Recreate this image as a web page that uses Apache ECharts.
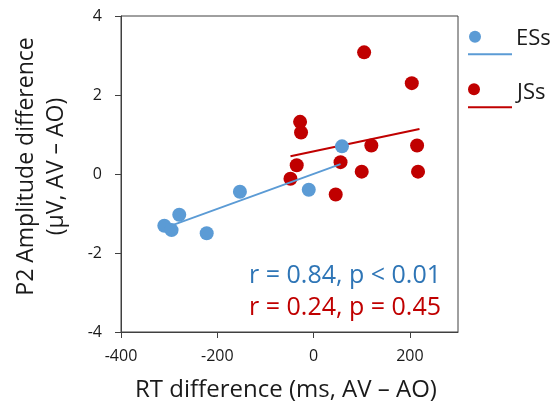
<!DOCTYPE html>
<html><head><meta charset="utf-8">
<script src="https://cdn.jsdelivr.net/npm/echarts@6/dist/echarts.min.js"></script>
<style>html,body{margin:0;padding:0;background:#fff}#c{width:556px;height:418px}</style>
</head><body><div id="c"></div>
<script>
// ES group (blue)
var esRT  = [-310, -295, -279, -222, -153, -10, 59];
var esAmp = [-1.31, -1.42, -1.03, -1.50, -0.45, -0.40, 0.70];
// JS group (red)
var jsRT  = [-48, -35, -28, -26, 46, 56, 100, 105, 120, 204, 215, 217];
var jsAmp = [-0.12, 0.22, 1.32, 1.05, -0.52, 0.30, 0.06, 3.08, 0.72, 2.30, 0.72, 0.06];
// regression line end points
var esFitX = [-290, 56];
var esFitY = [-1.28, 0.25];
var jsFitX = [-48, 220];
var jsFitY = [0.45, 1.14];
// ticks
var xTicks = [-400, -200, 0, 200];
var yTicks = [-4, -2, 0, 2, 4];
var esStat = 'r = 0.84, p < 0.01';
var jsStat = 'r = 0.24, p = 0.45';
var legendNames = ['ESs', 'JSs'];

function pairs(xs, ys) { return xs.map(function (x, i) { return [x, ys[i]]; }); }

var FONT = '"Open Sans", "Liberation Sans", sans-serif';
var BLUE = '#5b9bd5', RED = '#c00000', AX = '#404040', TXT = '#1a1a1a';

var chart = echarts.init(document.getElementById('c'), null, {renderer: 'canvas'});
chart.setOption({
  animation: false,
  backgroundColor: '#fff',
  grid: {left: 121, right: 98, top: 16, bottom: 86, show: true, borderColor: AX, borderWidth: 1, backgroundColor: 'transparent'},
  xAxis: {
    type: 'value', min: -400, max: 300, interval: 200,
    axisLine: {show: true, onZero: false, lineStyle: {color: AX, width: 1}},
    axisTick: {show: true, length: 6, lineStyle: {color: AX}, customValues: xTicks},
    axisLabel: {margin: 16, fontSize: 16, fontFamily: FONT, color: TXT, customValues: xTicks},
    splitLine: {show: false},
    name: 'RT difference (ms, AV – AO)', nameLocation: 'middle', nameGap: 46,
    nameTextStyle: {fontSize: 24, fontFamily: FONT, color: TXT, padding: [0, 7, 0, 0]}
  },
  yAxis: {
    type: 'value', min: -4, max: 4, interval: 2,
    axisLine: {show: true, onZero: false, lineStyle: {color: AX, width: 1}},
    axisTick: {show: true, length: 6, lineStyle: {color: AX}, customValues: yTicks},
    axisLabel: {margin: 19, fontSize: 16, fontFamily: FONT, color: TXT, customValues: yTicks},
    splitLine: {show: false},
    name: 'P2 Amplitude difference\n(µV, AV – AO)', nameLocation: 'middle', nameGap: 50,
    nameTextStyle: {fontSize: 23, lineHeight: 30, fontFamily: FONT, color: TXT, padding: [0, 0, 0, 15]}
  },
  series: [
    {type: 'scatter', name: legendNames[1], data: pairs(jsRT, jsAmp), symbolSize: 14,
     itemStyle: {color: RED, opacity: 1}, z: 2},
    {type: 'line', data: pairs(jsFitX, jsFitY), showSymbol: false, symbol: 'none',
     lineStyle: {color: RED, width: 2}, z: 3},
    {type: 'scatter', name: legendNames[0], data: pairs(esRT, esAmp), symbolSize: 14,
     itemStyle: {color: BLUE, opacity: 1}, z: 4},
    {type: 'line', data: pairs(esFitX, esFitY), showSymbol: false, symbol: 'none',
     lineStyle: {color: BLUE, width: 1.8}, z: 5}
  ],
  graphic: [
    {type: 'text', x: 441, y: 263, z: 10,
     style: {text: esStat, fill: '#2e75b6', font: '25px ' + FONT, align: 'right', textAlign: 'right', verticalAlign: 'top', textVerticalAlign: 'top'}},
    {type: 'text', x: 441, y: 295, z: 10,
     style: {text: jsStat, fill: RED, font: '25px ' + FONT, align: 'right', textAlign: 'right', verticalAlign: 'top', textVerticalAlign: 'top'}},
    // legend
    {type: 'circle', shape: {cx: 475, cy: 36.7, r: 6}, style: {fill: BLUE}},
    {type: 'line', shape: {x1: 468, y1: 54.3, x2: 512, y2: 54.3}, style: {stroke: BLUE, lineWidth: 2}},
    {type: 'text', x: 516, y: 38.5, style: {text: legendNames[0], fill: TXT, font: '22px ' + FONT, verticalAlign: 'middle', textVerticalAlign: 'middle'}},
    {type: 'circle', shape: {cx: 474, cy: 89.3, r: 6}, style: {fill: RED}},
    {type: 'line', shape: {x1: 468, y1: 107.3, x2: 512, y2: 107.3}, style: {stroke: RED, lineWidth: 2}},
    {type: 'text', x: 517, y: 92.5, style: {text: legendNames[1], fill: TXT, font: '22px ' + FONT, verticalAlign: 'middle', textVerticalAlign: 'middle'}}
  ]
});
</script></body></html>
